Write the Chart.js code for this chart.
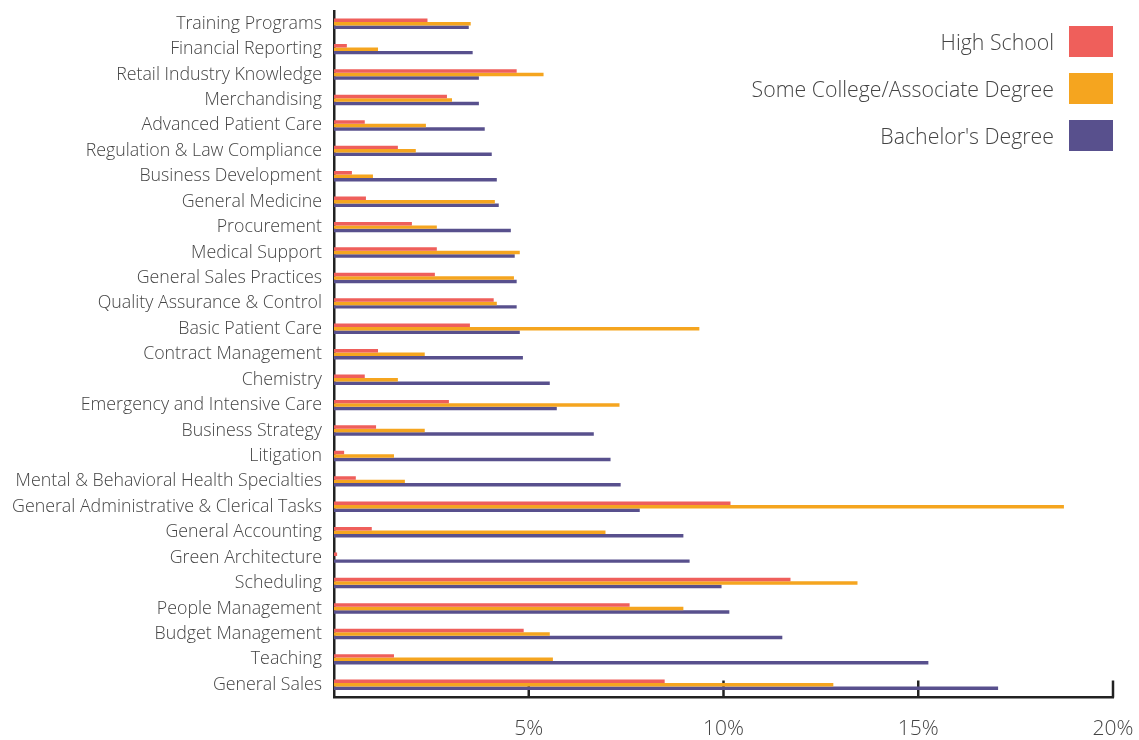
<!DOCTYPE html>
<html>
<head>
<meta charset="utf-8">
<script src="https://cdn.jsdelivr.net/npm/chart.js@4"></script>
<style>
html,body{margin:0;padding:0;background:#fff;}
#wrap{width:1139px;height:740px;position:relative;}
</style>
</head>
<body>
<div id="wrap"><canvas id="c"></canvas></div>
<script>
const categories = [
  "Training Programs","Financial Reporting","Retail Industry Knowledge","Merchandising",
  "Advanced Patient Care","Regulation & Law Compliance","Business Development","General Medicine",
  "Procurement","Medical Support","General Sales Practices","Quality Assurance & Control",
  "Basic Patient Care","Contract Management","Chemistry","Emergency and Intensive Care",
  "Business Strategy","Litigation","Mental & Behavioral Health Specialties",
  "General Administrative & Clerical Tasks","General Accounting","Green Architecture",
  "Scheduling","People Management","Budget Management","Teaching","General Sales"
];
const seriesNames = ["High School","Some College/Associate Degree","Bachelor's Degree"];
const highSchool = [2.40,0.33,4.69,2.90,0.79,1.64,0.46,0.82,2.00,2.64,2.59,4.10,3.49,1.13,0.79,2.95,1.08,0.26,0.56,10.18,0.97,0.08,11.72,7.59,4.87,1.54,8.49];
const someCollege = [3.51,1.13,5.38,3.03,2.36,2.10,1.00,4.13,2.64,4.77,4.62,4.18,9.38,2.33,1.64,7.33,2.33,1.54,1.82,18.74,6.97,0,13.44,8.97,5.54,5.62,12.82];
const bachelors = [3.46,3.56,3.72,3.72,3.87,4.05,4.18,4.23,4.54,4.64,4.69,4.69,4.77,4.85,5.54,5.72,6.67,7.10,7.36,7.85,8.97,9.13,9.95,10.15,11.51,15.26,17.05];
const xTicks = [0,5,10,15,20];

const colors = ['#EF5F5B','#F5A51F','#58508D'];
const FONT = "'Open Sans', sans-serif";
Chart.defaults.font.family = FONT;

const innerTicks = {
  id:'innerTicks',
  beforeDatasetsDraw(chart){
    const x = chart.scales.x, ctx = chart.ctx, b = chart.chartArea.bottom;
    ctx.save();
    ctx.strokeStyle = '#222';
    ctx.lineWidth = 2.5;
    xTicks.forEach(v => {
      if (v === 0) return;
      const px = x.getPixelForValue(v);
      ctx.beginPath();
      ctx.moveTo(px, b - 17);
      ctx.lineTo(px, b);
      ctx.stroke();
    });
    ctx.restore();
  }
};

const sideLegend = {
  id:'sideLegend',
  afterDraw(chart){
    const ctx = chart.ctx;
    ctx.save();
    ctx.font = "300 21.3px " + FONT;
    ctx.textAlign = 'right';
    ctx.textBaseline = 'middle';
    chart.data.datasets.forEach((ds,i) => {
      const y = 26 + i*47;
      ctx.fillStyle = ds.backgroundColor;
      ctx.fillRect(1069, y, 44, 31);
      ctx.fillStyle = '#444';
      ctx.fillText(ds.label, 1054, y + 18);
    });
    ctx.restore();
  }
};

new Chart(document.getElementById('c'), {
  type:'bar',
  data:{
    labels: categories,
    datasets:[
      {label: seriesNames[0], data: highSchool, backgroundColor: colors[0]},
      {label: seriesNames[1], data: someCollege, backgroundColor: colors[1]},
      {label: seriesNames[2], data: bachelors, backgroundColor: colors[2]}
    ]
  },
  options:{
    indexAxis:'y',
    responsive:true,
    maintainAspectRatio:false,
    animation:false,
    datasets:{bar:{categoryPercentage:0.41, barPercentage:1.0, borderWidth:0}},
    layout:{padding:{top:11, right:26, left:0, bottom:0}},
    plugins:{legend:{display:false}, tooltip:{enabled:false}},
    scales:{
      x:{
        min:0, max:20,
        afterBuildTicks(s){ s.ticks = xTicks.map(v => ({value:v})); },
        afterFit(s){ s.height = 42.5; s.paddingLeft = 0; s.paddingRight = 0; },
        grid:{display:false, drawTicks:false},
        border:{display:true, color:'#222', width:2.5},
        ticks:{
          padding:19,
          color:'#444',
          font:{size:21, weight:300},
          callback:(v) => v === 0 ? '' : v + '%'
        }
      },
      y:{
        grid:{display:false, drawTicks:false},
        border:{display:true, color:'#222', width:2.5},
        afterFit(s){ s.width = 334; s.paddingTop = 0; s.paddingBottom = 0; },
        ticks:{
          padding:12,
          color:'#444',
          font:{size:17.8, weight:300},
          autoSkip:false
        }
      }
    }
  },
  plugins:[innerTicks, sideLegend]
});
</script>
</body>
</html>
